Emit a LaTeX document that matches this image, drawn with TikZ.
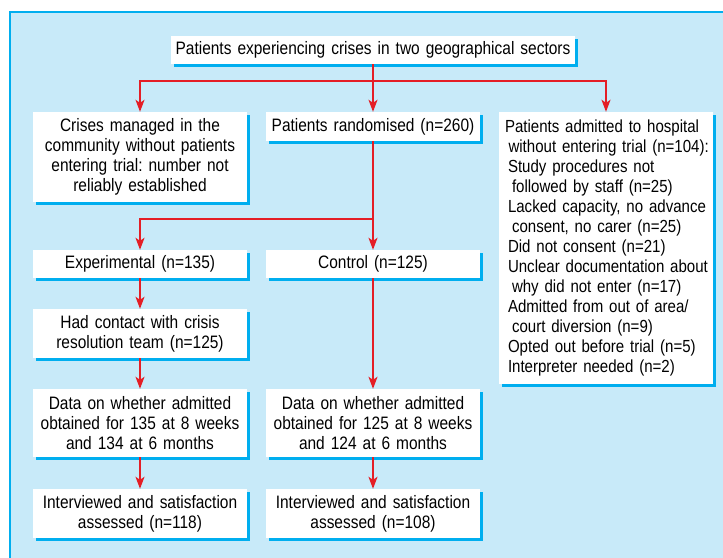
\documentclass[tikz,border=0pt]{standalone}
\usepackage{fontspec}
\setmainfont{Liberation Sans}[FakeStretch=0.86]
\usetikzlibrary{arrows.meta,shadows}
\definecolor{panelblue}{RGB}{200,234,249}
\definecolor{edgeblue}{RGB}{0,174,239}
\definecolor{flowred}{RGB}{228,30,38}
\tikzset{
  box/.style={fill=white,minimum width=214pt,text width=210pt,inner xsep=2pt,inner ysep=0pt,
    align=center,font=\fontsize{18}{20}\selectfont,
    drop shadow={shadow xshift=3pt,shadow yshift=-3pt,fill=edgeblue,opacity=1}},
  link/.style={draw=flowred,line width=1.5pt},
  arrow/.style={link,-{Stealth[length=12pt,width=9pt,inset=3pt]}},
}
\frenchspacing
\begin{document}
\begin{tikzpicture}[x=1pt,y=-1pt]
        \useasboundingbox (0,0) rectangle (723,557);
        \fill[white] (0,0) rectangle (723,557);
        \draw[draw=edgeblue,fill=panelblue,line width=1.5pt] (10,12) rectangle (760,600);
        % top of the chart
        \node[box,minimum height=28pt,minimum width=404pt,text width=400pt] (top) at (373,50)
            {Patients experiencing crises in two geographical sectors};
        \node[box,minimum height=90pt] (crises) at (140,157)
            {Crises managed in the\\community without patients\\entering trial: number not\\reliably established};
        \node[box,minimum height=29pt] (random) at (373,126.5) {Patients randomised (n=260)};
        \node[box,minimum height=272pt,align=left,inner xsep=0pt,text width=214pt,
              font=\fontsize{17.5}{20}\selectfont] (hosp) at (606,248)
            {\hspace*{6pt}Patients admitted to hospital\\
             \hspace*{9.5pt}without entering trial (n=104):\\
             \hspace*{9pt}Study procedures not\\
             \hspace*{13pt}followed by staff (n=25)\\
             \hspace*{9pt}Lacked capacity, no advance\\
             \hspace*{13pt}consent, no carer (n=25)\\
             \hspace*{9pt}Did not consent (n=21)\\
             \hspace*{9pt}Unclear documentation about\\
             \hspace*{13pt}why did not enter (n=17)\\
             \hspace*{9pt}Admitted from out of area/\\
             \hspace*{13pt}court diversion (n=9)\\
             \hspace*{9pt}Opted out before trial (n=5)\\
             \hspace*{9pt}Interpreter needed (n=2)};
        % the two arms
        \node[box,minimum height=28pt] (exper) at (140,264) {Experimental (n=135)};
        \node[box,minimum height=28pt] (control) at (373,264) {Control (n=125)};
        \node[box,minimum height=49pt] (contact) at (140,333.5) {Had contact with crisis\\resolution team (n=125)};
        \foreach \arm/\x/\n/\m/\k in {E/140/135/134/118, C/373/125/124/108}
        {\node[box,minimum height=68pt] (data\arm) at (\x,423)
            {Data on whether admitted\\obtained for \n{} at 8 weeks\\and \m{} at 6 months};
        \node[box,minimum height=49pt] (int\arm) at (\x,513.5) {Interviewed and satisfaction\\assessed (n=\k)};
        \draw[arrow] (data\arm) -- (int\arm);
        }
        % connectors
        \coordinate (fork) at (373,81);
        \coordinate (split) at (373,219);
        \draw[link] (top) -- (fork);
        \draw[arrow] (fork) -| (crises);
        \draw[arrow] (fork) -- (random);
        \draw[arrow] (fork) -| (hosp);
        \draw[arrow] (random) -- (control);
        \draw[arrow] (split) -| (exper);
        \draw[arrow] (exper) -- (contact);
        \draw[arrow] (contact) -- (dataE);
        \draw[arrow] (control) -- (dataC);
\end{tikzpicture}
\end{document}
